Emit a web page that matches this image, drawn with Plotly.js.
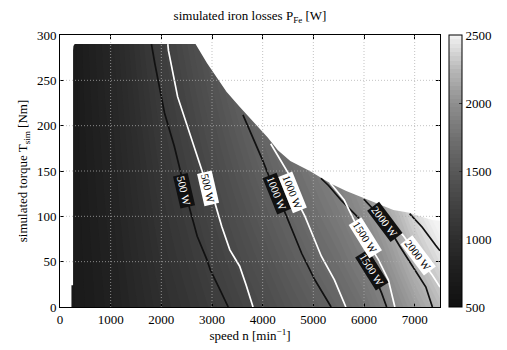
<!DOCTYPE html>
<html>
<head>
<meta charset="utf-8">
<script src="https://cdn.plot.ly/plotly-3.0.1.min.js"></script>
<style>
  html, body { margin: 0; padding: 0; background: #fff; }
  #chart { width: 507px; height: 350px; }
</style>
</head>
<body>
<div id="chart"></div>
<script>
// Grid of the loss map: speed in 1/min, torque in Nm
const speed = [0, 250, 500, 1000, 1500, 2000, 2500, 3000, 3500, 4000, 4500, 5000, 5500, 6000, 6500, 7000, 7500];
const torque = [0, 50, 100, 150, 200, 250, 300];

// Iron losses in W, one row per torque value
const lossT0   = [650, 680, 720, 800, 900, 1000, 1080, 1170, 1260, 1350, 1450, 1540, 1630, 1740, 1900, 2080, 2250];
const lossT50  = [650, 683, 728, 815, 925, 1035, 1125, 1225, 1325, 1425, 1530, 1630, 1730, 1855, 2030, 2230, 2410];
const lossT100 = [650, 686, 736, 830, 950, 1070, 1170, 1280, 1390, 1500, 1610, 1720, 1830, 1970, 2160, 2380, 2570];
const lossT150 = [650, 689, 744, 845, 975, 1105, 1215, 1335, 1455, 1575, 1690, 1810, 1930, 2085, 2290, 2530, 2730];
const lossT200 = [650, 692, 752, 860, 1000, 1140, 1260, 1390, 1520, 1650, 1770, 1900, 2030, 2200, 2420, 2680, 2890];
const lossT250 = [650, 695, 760, 875, 1025, 1175, 1305, 1445, 1585, 1725, 1850, 1990, 2130, 2315, 2550, 2830, 3050];
const lossT300 = [650, 698, 768, 890, 1050, 1210, 1350, 1500, 1650, 1800, 1930, 2080, 2230, 2430, 2680, 2980, 3210];

// Operating range: minimum speed and the maximum torque envelope
const minSpeedLow = 226, minSpeedHigh = 258, minSpeedStepTorque = 24;
const envSpeed  = [258, 265, 290, 2675, 2900, 3290, 3545, 3900, 4100, 4300, 4545, 4930, 5160, 5350, 5650, 6000, 6320, 6580, 6900, 7100, 7350, 7500];
const envTorque = [283, 288, 290, 290, 269, 237, 221, 199, 187, 173, 161, 150, 142, 136, 128, 120, 113, 107, 104, 100, 96, 95];

// Iso-loss lines (black set and white set), speed / torque pairs
const black500S  = [1805, 1870, 2063, 2257, 2385, 2450, 2547, 2708, 2901, 2966, 3159, 3320];
const black500T  = [290, 269, 214, 177, 148, 128, 111, 78, 52, 41, 19, 0];
const white500S  = [2128, 2140, 2321, 2579, 2805, 2917, 3062, 3191, 3352, 3546, 3675, 3810];
const white500T  = [290, 283, 232, 188, 148, 131, 114, 89, 63, 45, 24, 0];
const black1000S = [3611, 3804, 3998, 4126, 4288, 4449, 4578, 4771, 5029, 5351];
const black1000T = [212, 188, 162, 144, 125, 103, 85, 59, 30, 0];
const white1000S = [4159, 4352, 4545, 4590, 4835, 4996, 5158, 5416, 5642];
const white1000T = [180, 162, 144, 127, 100, 78, 56, 30, 0];
const black1500S = [5150, 5300, 5545, 5750, 5932, 6050, 6157, 6350, 6447];
const black1500T = [142, 134, 118, 106, 96, 72, 41, 15, 0];
const white1500S = [5330, 5609, 5835, 6029, 6286, 6480, 6609];
const white1500T = [137, 118, 92, 76, 52, 30, 0];
const black2000S = [5996, 6415, 6706, 6963, 7221, 7350];
const black2000T = [119, 94, 67, 45, 22, 0];
const white2000S = [6254, 6770, 7060, 7350, 7500];
const white2000T = [114, 79, 57, 35, 22];
const black2500S = [6900, 7150, 7414, 7500];
const black2500T = [103, 88, 68, 62];

const xTicks = [0, 1000, 2000, 3000, 4000, 5000, 6000, 7000];
const yTicks = [0, 50, 100, 150, 200, 250, 300];
const cTicks = [500, 1000, 1500, 2000, 2500];

const serif = 'Liberation Serif, Times New Roman, serif';
const xMax = 7500, yMax = 300;

const grayScale = [
  [0, '#101010'], [0.125, '#1d1d1d'], [0.25, '#2e2e2e'], [0.375, '#424242'],
  [0.5, '#585858'], [0.625, '#717171'], [0.75, '#8f8f8f'], [0.875, '#b9b9b9'], [1, '#f3f3f3']
];

const traces = [];

// Shaded loss map
traces.push({
  type: 'contour',
  x: speed, y: torque,
  z: [lossT0, lossT50, lossT100, lossT150, lossT200, lossT250, lossT300],
  zmin: 500, zmax: 2500, zauto: false,
  autocontour: false,
  contours: { start: 500, end: 2500, size: 31.25, coloring: 'fill', showlines: false },
  line: { width: 0 },
  colorscale: grayScale,
  hoverinfo: 'skip',
  colorbar: {
    x: 1.023, xanchor: 'left', xpad: 0, ypad: 0,
    y: 0.5, yanchor: 'middle', len: 1, thickness: 12.5,
    outlinewidth: 1, outlinecolor: '#000',
    tickvals: cTicks, ticktext: cTicks.map(String),
    ticks: 'inside', ticklen: 3, tickcolor: '#333',
    tickfont: { family: serif, size: 13, color: '#000' }
  }
});

// Blank out everything outside the operating range
const maskX = [0, minSpeedLow, minSpeedLow, minSpeedHigh].concat(envSpeed, [xMax, xMax, 0]);
const maskY = [0, 0, minSpeedStepTorque, minSpeedStepTorque].concat(envTorque, [envTorque[envTorque.length - 1], yMax, yMax]);
traces.push({
  x: maskX, y: maskY, mode: 'lines', fill: 'toself',
  fillcolor: '#ffffff', line: { width: 0, color: '#ffffff' },
  hoverinfo: 'skip', showlegend: false
});

// Iso-loss lines with their labels
const isoLines = [
  { level: 500,  s: black500S,  t: black500T,  color: '#111', label: 5 },
  { level: 500,  s: white500S,  t: white500T,  color: '#fff', label: 5 },
  { level: 1000, s: black1000S, t: black1000T, color: '#111', label: 4 },
  { level: 1000, s: white1000S, t: white1000T, color: '#fff', label: 3 },
  { level: 1500, s: black1500S, t: black1500T, color: '#111', label: 6 },
  { level: 1500, s: white1500S, t: white1500T, color: '#fff', label: 3 },
  { level: 2000, s: black2000S, t: black2000T, color: '#111', label: 1 },
  { level: 2000, s: white2000S, t: white2000T, color: '#fff', label: 2 },
  { level: 2500, s: black2500S, t: black2500T, color: '#111', label: -1 }
];
const labelAngle = { 500: 77, 1000: 68, 1500: 58, 2000: 53 };

const annotations = [];
isoLines.forEach(function (l) {
  traces.push({
    x: l.s, y: l.t, mode: 'lines',
    line: { color: l.color, width: 1.7 },
    hoverinfo: 'skip', showlegend: false
  });
  if (l.label >= 0) {
    const dark = l.color !== '#fff';
    annotations.push({
      x: l.s[l.label], y: l.t[l.label], xref: 'x', yref: 'y',
      text: l.level + ' W', showarrow: false,
      textangle: labelAngle[l.level],
      font: { family: serif, size: 11, color: dark ? '#fff' : '#000' },
      bgcolor: dark ? '#111' : '#fff', borderpad: 1
    });
  }
});

// Dotted grid drawn on top of the map
const gridLine = { color: 'rgba(175,175,175,0.75)', width: 1, dash: '1px,2px' };
const shapes = [];
xTicks.slice(1).forEach(function (v) {
  shapes.push({ type: 'line', xref: 'x', yref: 'y', x0: v, x1: v, y0: 0, y1: yMax,
    line: gridLine, layer: 'above' });
});
yTicks.slice(1, -1).forEach(function (v) {
  shapes.push({ type: 'line', xref: 'x', yref: 'y', x0: 0, x1: xMax, y0: v, y1: v,
    line: gridLine, layer: 'above' });
});

const axisCommon = {
  showgrid: false, zeroline: false,
  showline: true, linecolor: '#000', linewidth: 1, mirror: 'ticks',
  ticks: 'inside', ticklen: 4, tickcolor: '#000',
  tickfont: { family: serif, size: 13, color: '#000' }
};

const layout = {
  width: 507, height: 350,
  margin: { l: 60, r: 59, t: 35, b: 43 },
  paper_bgcolor: '#fff', plot_bgcolor: '#fff',
  showlegend: false,
  title: {
    text: 'simulated iron losses P<sub>Fe</sub> [W]',
    font: { family: serif, size: 13, color: '#000' },
    x: 0.5, xref: 'paper', xanchor: 'center',
    y: 0.955, yref: 'container', yanchor: 'middle'
  },
  xaxis: Object.assign({}, axisCommon, {
    range: [0, xMax], tickvals: xTicks, ticktext: xTicks.map(String),
    title: { text: 'speed n [min<sup>\u22121</sup>]', font: { family: serif, size: 13, color: '#000' }, standoff: 3 }
  }),
  yaxis: Object.assign({}, axisCommon, {
    range: [0, yMax], tickvals: yTicks, ticktext: yTicks.map(String),
    title: { text: 'simulated torque T<sub>sim</sub> [Nm]', font: { family: serif, size: 13, color: '#000' }, standoff: 6 }
  }),
  shapes: shapes,
  annotations: annotations
};

Plotly.newPlot('chart', traces, layout, { displayModeBar: false, staticPlot: true });
</script>
</body>
</html>
